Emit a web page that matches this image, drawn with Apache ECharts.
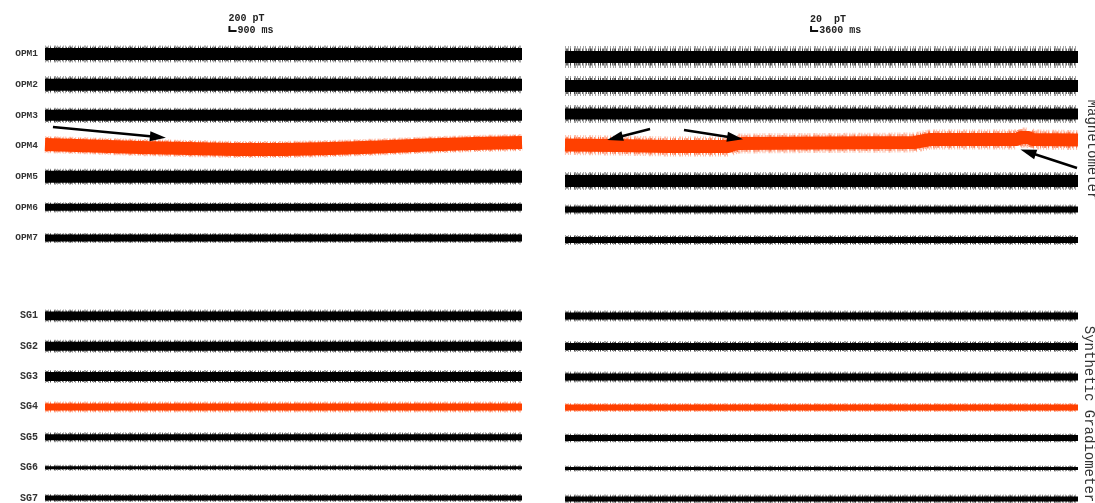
<!DOCTYPE html>
<html>
<head>
<meta charset="utf-8">
<script src="https://cdn.jsdelivr.net/npm/echarts@6/dist/echarts.min.js"></script>
<style>
html,body{margin:0;padding:0;background:#fff;}
#chart{width:1095px;height:503px;}
</style>
</head>
<body>
<div id="chart"></div>
<script>
// ---------------- DATA ----------------
const T_LEFT = 60;    // s, recording length shown in left panel
const T_RIGHT = 260;  // s, recording length shown in right panel
const ROW_LEFT = 1220;  // pT between stacked channels (left)
const ROW_RIGHT = 122;  // pT between stacked channels (right)

const opmNames = ['OPM1','OPM2','OPM3','OPM4','OPM5','OPM6','OPM7'];
const sgNames  = ['SG1','SG2','SG3','SG4','SG5','SG6','SG7'];
const highlighted = ['OPM4','SG4'];

// slow signal (time s, pT) per channel
const leftOpmSignal = [
  [[0,0],[60,0]],
  [[0,0],[60,0]],
  [[0,0],[60,0]],
  [[0,60],[6,0],[12,-60],[18,-100],[24,-140],[30,-140],[36,-100],[42,-40],[48,40],[54,100],[60,140]],
  [[0,0],[60,0]],
  [[0,0],[60,0]],
  [[0,0],[60,0]]
];
const leftSgSignal = [
  [[0,0],[60,0]],[[0,0],[60,0]],[[0,0],[60,0]],[[0,0],[60,0]],
  [[0,0],[60,0]],[[0,0],[60,0]],[[0,0],[60,0]]
];
const rightOpmSignal = [
  [[0,0],[260,0]],
  [[0,6],[260,6]],
  [[0,16],[260,16]],
  [[0,14],[26,12],[52,8],[83,8],[87,20],[130,22],[177,24],[185,36],[229,36],[231,44],[235,44],[237,36],[260,34]],
  [[0,-8],[260,-8]],
  [[0,0],[260,0]],
  [[0,0],[260,0]]
];
const rightSgSignal = [
  [[0,0],[260,0]],[[0,0],[260,0]],[[0,0],[260,0]],[[0,0],[260,0]],
  [[0,0],[260,0]],[[0,0],[260,0]],[[0,0],[260,0]]
];
// noise: dense core amplitude and peak-to-peak extent (pT)
const leftOpmCore  = [480,480,440,520,480,280,280];
const leftOpmPeak  = [680,680,600,680,640,400,400];
const leftSgCore   = [360,360,360,280,240,120,200];
const leftSgPeak   = [520,520,520,440,400,240,320];
const rightOpmCore = [48,48,44,52,48,24,24];
const rightOpmPeak = [88,80,72,80,72,40,40];
const rightSgCore  = [28,28,28,24,24,12,20];
const rightSgPeak  = [44,44,44,36,36,24,36];

// scale bars: [time s, pT] corner, sizes
const scaleLeft  = {t:23.2, v:915, dv:200, dt:0.9, label1:'200 pT', label2:'900 ms'};
const scaleRight = {t:124.7, v:104, dv:20, dt:3.6, label1:'20  pT', label2:'3600 ms'};

// annotation arrows (tail -> tip), time s / pT
const arrowsLeft  = [[[1.0,-2904],[14.2,-3302]]];
const arrowsRight = [
  [[43.1,-288],[25.3,-324]],
  [[60.3,-292],[86.2,-324]],
  [[259.5,-444],[234.7,-380]]
];

// ---------------- LAYOUT / STYLE ----------------
const BLACK = '#000000';
const RED = '#ff4000';
const FONT = 'Liberation Mono, DejaVu Sans Mono, monospace';

const panels = [
  {left:45,  width:477, T:T_LEFT,  ROW:ROW_LEFT,  row0:[54,316],  rowPx:[30.67,30.5], labels:true},
  {left:565, width:513, T:T_RIGHT, ROW:ROW_RIGHT, row0:[57,316],  rowPx:[30.5,30.5],  labels:false}
];
// rows of room kept above row 0 / below row 6
const SPAN = [{above:1, below:1}, {above:1, below:0.1}];

const chart = echarts.init(document.getElementById('chart'), null, {renderer:'canvas'});

const grids = [], xAxes = [], yAxes = [];
panels.forEach((p, pi) => {
  [0,1].forEach(gi => {
    const names = gi === 0 ? opmNames : sgNames;
    const sp = SPAN[gi];
    grids.push({left:p.left, width:p.width, top:p.row0[gi]-sp.above*p.rowPx[gi], height:(6+sp.above+sp.below)*p.rowPx[gi], containLabel:false});
    const idx = grids.length-1;
    const rowVals = names.map((n, r) => -r*p.ROW);
    xAxes.push({type:'value', gridIndex:idx, min:0, max:p.T, show:false});
    yAxes.push({
      type:'value', gridIndex:idx, min:-(6+sp.below)*p.ROW, max:sp.above*p.ROW,
      axisLine:{show:false}, axisTick:{show:false}, splitLine:{show:false},
      axisLabel:{
        show:p.labels, margin:7, color:'#333', fontFamily:FONT, fontWeight:'bold', fontSize:gi===0?9.5:10,
        customValues: rowVals,
        formatter: v => { const r = Math.round(-v/p.ROW); return (r>=0 && r<7) ? names[r] : ''; }
      }
    });
  });
});

chart.setOption({animation:false, grid:grids, xAxis:xAxes, yAxis:yAxes, series:[]});

function pxPerUnit(g, ROW){
  const a = chart.convertToPixel({yAxisIndex:g}, 0);
  const b = chart.convertToPixel({yAxisIndex:g}, -ROW);
  return Math.abs(a-b)/ROW;
}

const series = [];
function addTraces(g, ROW, names, signals, core, peak){
  const k = pxPerUnit(g, ROW);
  names.forEach((name, r) => {
    const color = highlighted.includes(name) ? RED : BLACK;
    const data = signals[r].map(([t,v]) => [t, -r*ROW + v]);
    const base = {type:'line', xAxisIndex:g, yAxisIndex:g, data, symbol:'none', silent:true, animation:false, z:2};
    series.push(Object.assign({}, base, {name:name+'-fuzzA', lineStyle:{width:peak[r]*k, color, opacity:0.35, type:[1,2,1,1,1,3,2,1,1,2], cap:'butt', join:'round'}}));
    series.push(Object.assign({}, base, {name:name+'-fuzzB', lineStyle:{width:(peak[r]+core[r])/2*k, color, opacity:0.6, type:[1,1,2,2,1,3,1,1], dashOffset:1, cap:'butt', join:'round'}}));
    series.push(Object.assign({}, base, {name:name, z:3, lineStyle:{width:core[r]*k, color, opacity:1, type:'solid', cap:'butt', join:'round'}}));
  });
}
addTraces(0, ROW_LEFT, opmNames, leftOpmSignal, leftOpmCore, leftOpmPeak);
addTraces(1, ROW_LEFT, sgNames, leftSgSignal, leftSgCore, leftSgPeak);
addTraces(2, ROW_RIGHT, opmNames, rightOpmSignal, rightOpmCore, rightOpmPeak);
addTraces(3, ROW_RIGHT, sgNames, rightSgSignal, rightSgCore, rightSgPeak);

function scaleBar(g, s){
  series.push({type:'line', xAxisIndex:g, yAxisIndex:g, symbol:'none', silent:true, z:5,
    data:[[s.t, s.v+s.dv],[s.t, s.v],[s.t+s.dt, s.v]],
    lineStyle:{width:2, color:'#111', cap:'butt', join:'miter'}});
}
scaleBar(0, scaleLeft);
scaleBar(2, scaleRight);

function arrows(g, list){
  series.push({type:'line', xAxisIndex:g, yAxisIndex:g, data:[], silent:true, z:6,
    markLine:{silent:true, symbol:['none','triangle'], symbolSize:[10,16], animation:false,
      lineStyle:{color:'#000', width:2.4, type:'solid'}, label:{show:false}, emphasis:{disabled:true},
      data:list.map(([a,b]) => [{coord:a},{coord:b}])}});
}
arrows(0, arrowsLeft);
arrows(2, arrowsRight);

// scale bar text positions from the axes
function textAt(g, t, v){ return chart.convertToPixel({gridIndex:g}, [t, v]); }
const graphics = [];
[[0, scaleLeft],[2, scaleRight]].forEach(([g,s]) => {
  const top = textAt(g, s.t, s.v + s.dv);
  const corner = textAt(g, s.t + s.dt, s.v);
  graphics.push({type:'text', left:top[0]-1, top:top[1]-12, style:{text:s.label1, font:'bold 10px '+FONT, fill:'#222'}});
  graphics.push({type:'text', left:corner[0]+1, top:corner[1]-6, style:{text:s.label2, font:'bold 10px '+FONT, fill:'#222'}});
});
graphics.push({type:'text', x:1092, y:150, rotation:-Math.PI/2,
  style:{text:'Magnetometer', font:'14px '+FONT, fill:'#333', align:'center', verticalAlign:'middle'}});
graphics.push({type:'text', x:1089, y:414, rotation:-Math.PI/2,
  style:{text:'Synthetic Gradiometer', font:'14px '+FONT, fill:'#333', align:'center', verticalAlign:'middle'}});

chart.setOption({series, graphic:graphics});
</script>
</body>
</html>
